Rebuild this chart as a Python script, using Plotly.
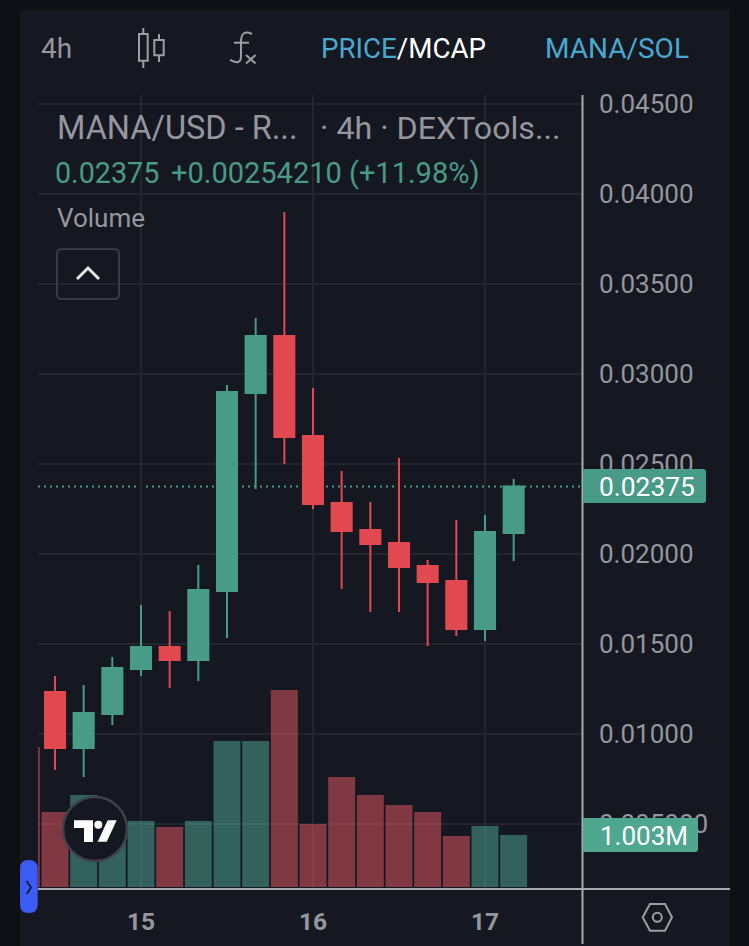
import plotly.graph_objects as go

W, H = 749, 946

# ---------- data ----------
times = ["2023-03-14 12:00", "2023-03-14 16:00", "2023-03-14 20:00", "2023-03-15 00:00",
         "2023-03-15 04:00", "2023-03-15 08:00", "2023-03-15 12:00", "2023-03-15 16:00",
         "2023-03-15 20:00", "2023-03-16 00:00", "2023-03-16 04:00", "2023-03-16 08:00",
         "2023-03-16 12:00", "2023-03-16 16:00", "2023-03-16 20:00", "2023-03-17 00:00",
         "2023-03-17 04:00"]
opens = [0.01233, 0.00922, 0.01111, 0.01361, 0.01483, 0.01411, 0.01794, 0.02894, 0.03211,
         0.02656, 0.02283, 0.02133, 0.02061, 0.01933, 0.01850, 0.01583, 0.02117]
closes = [0.00922, 0.01117, 0.01367, 0.01483, 0.01411, 0.01800, 0.02900, 0.03211, 0.02650,
          0.02278, 0.02128, 0.02056, 0.01928, 0.01844, 0.01583, 0.02122, 0.02375]
highs = [0.01322, 0.01272, 0.01428, 0.01717, 0.01683, 0.01939, 0.02939, 0.03311, 0.03900,
         0.02922, 0.02461, 0.02289, 0.02533, 0.01967, 0.02189, 0.02217, 0.02417]
lows = [0.00800, 0.00761, 0.01050, 0.01322, 0.01256, 0.01294, 0.01533, 0.02361, 0.02500,
        0.02250, 0.01806, 0.01678, 0.01678, 0.01489, 0.01544, 0.01517, 0.01961]

volume_times = ["2023-03-14 08:00"] + times
volumes_m = [2.70, 1.447, 1.774, 1.29, 1.273, 1.157, 1.273, 2.816, 2.816, 3.80,
             1.215, 2.12, 1.774, 1.58, 1.447, 0.984, 1.176, 1.003]
volume_up = [False, False, True, True, True, False, True, True, True, False,
             False, False, False, False, False, False, True, True]

price_ticks = [0.005, 0.01, 0.015, 0.02, 0.025, 0.03, 0.035, 0.04, 0.045]
price_tick_labels = ["0.005000", "0.01000", "0.01500", "0.02000", "0.02500",
                     "0.03000", "0.03500", "0.04000", "0.04500"]
day_ticks = ["2023-03-15 00:00", "2023-03-16 00:00", "2023-03-17 00:00"]
day_labels = ["15", "16", "17"]
last_price = 0.02375

# ---------- style ----------
BG, PANEL = "#0d1116", "#161821"
GREEN, RED = "#489b87", "#e2484f"
VOL_GREEN, VOL_RED = "rgba(80,172,154,0.5)", "rgba(233,90,100,0.5)"
GRID, AXIS, TEXT = "#24262f", "#a9aab1", "#95969e"
BLUE = "#4aa8d0"
FONT = "Roboto"


def px(x):
    return x / W


def py(y):
    return 1 - y / H


def path(*segs):
    """segs: strings like 'M', 'L', 'Q', 'Z' and (x, y) pixel tuples."""
    out = []
    for s in segs:
        out.append(s if isinstance(s, str) else f"{px(s[0]):.5f},{py(s[1]):.5f}")
    return " ".join(out)


def rrect(x0, y0, x1, y1, r, rl=None):
    rl = r if rl is None else rl
    return path("M", (x0 + rl, y0), "L", (x1 - r, y0), "Q", (x1, y0), (x1, y0 + r),
                "L", (x1, y1 - r), "Q", (x1, y1), (x1 - r, y1), "L", (x0 + rl, y1),
                "Q", (x0, y1), (x0, y1 - rl), "L", (x0, y0 + rl), "Q", (x0, y0), (x0 + rl, y0), "Z")


shapes = []


def shape_path(d, fill="rgba(0,0,0,0)", line=None, lw=0, layer="above"):
    shapes.append(dict(type="path", path=d, xref="paper", yref="paper", fillcolor=fill,
                       line=dict(color=line or "rgba(0,0,0,0)", width=lw), layer=layer))


def circle(cx, cy, r, fill, line=None, lw=0):
    shapes.append(dict(type="circle", xref="paper", yref="paper", x0=px(cx - r), x1=px(cx + r),
                       y0=py(cy + r), y1=py(cy - r), fillcolor=fill,
                       line=dict(color=line or "rgba(0,0,0,0)", width=lw), layer="above"))


# panel
shape_path(path("M", (20, 10), "L", (730, 10), "L", (730, 946), "L", (20, 946), "Z"), fill=PANEL, layer="below")
# last price dotted line
shapes.append(dict(type="line", xref="paper", yref="y2", x0=px(38), x1=px(582), y0=last_price, y1=last_price,
                   line=dict(color=GREEN, width=1.8, dash="2px,4px"), layer="below"))
# axis frame
shape_path(path("M", (582.5, 95), "L", (582.5, 944)), line=AXIS, lw=2)
shape_path(path("M", (38, 889), "L", (730, 889)), line=AXIS, lw=2)
# price tags
shape_path(rrect(583, 469, 706, 503, 3, rl=0.1), fill=GREEN)
shape_path(rrect(583, 818, 698, 852, 3, rl=0.1), fill="#4fa790")
# collapse button
shape_path(rrect(57, 249, 119, 299, 5), line="#383a45", lw=2)
shape_path(path("M", (77, 279), "L", (88, 268), "L", (99, 279)), line="#e6e6ea", lw=3)
# TradingView badge
circle(95, 829, 32, PANEL, "#3f414c", 2.5)
shape_path(path("M", (74, 820.3), "L", (93, 820.3), "L", (93, 842), "L", (84, 842), "L", (84, 828), "L", (74, 828), "Z"),
           fill="#ffffff")
circle(98.3, 824.7, 4, "#ffffff")
shape_path(path("M", (107.7, 820.3), "L", (116.7, 820.3), "L", (106.7, 841.7), "L", (97.7, 841.7), "Z"), fill="#ffffff")
# side tab
shape_path(rrect(20, 860, 37.7, 913, 8.5), fill="#3a5cf5")
shape_path(path("M", (26.7, 881), "L", (31, 887.5), "L", (26.7, 894)), line="#12183a", lw=1.8)
# candle icon
ICON = "#9c9da5"
shape_path(path("M", (139, 34), "L", (147.7, 34), "L", (147.7, 60.7), "L", (139, 60.7), "Z"), line=ICON, lw=2)
shape_path(path("M", (143.3, 28), "L", (143.3, 34), "M", (143.3, 60.7), "L", (143.3, 68)), line=ICON, lw=2)
shape_path(path("M", (154.3, 40), "L", (163.7, 40), "L", (163.7, 55.3), "L", (154.3, 55.3), "Z"), line=ICON, lw=2)
shape_path(path("M", (159, 34), "L", (159, 40), "M", (159, 55.3), "L", (159, 62)), line=ICON, lw=2)
# f(x) icon
shape_path(path("M", (252, 34), "Q", (241, 29), (241, 42), "L", (241, 56), "Q", (241, 66), (230, 60)), line=ICON, lw=2)
shape_path(path("M", (234, 42.7), "L", (249, 42.7)), line=ICON, lw=2)
shape_path(path("M", (246, 55), "L", (255.5, 63.5), "M", (255.5, 55), "L", (246, 63.5)), line=ICON, lw=2)
# settings hexagon
shape_path(path("M", (642.7, 917.3), "L", (650, 904), "L", (665, 904), "L", (672, 917.3), "L", (665, 930.7), "L", (650, 930.7), "Z"),
           line=ICON, lw=2)
circle(657.3, 917.3, 4.5, "rgba(0,0,0,0)", ICON, 2)

annotations = []


def label(x, y, text, size, color, anchor="left", weight=None):
    annotations.append(dict(x=px(x), y=py(y), xref="paper", yref="paper", xanchor=anchor, yanchor="middle",
                            text=text, showarrow=False, borderpad=0, align="left",
                            font=dict(family=FONT, size=size, color=color, weight=weight)))


label(40, 48, "4h", 28, TEXT)
label(320, 48, f'<span style="color:{BLUE}">PRICE</span>/MCAP', 27.7, "#ffffff")
label(544, 48, "MANA/SOL", 28, BLUE)
label(56, 128, "MANA/USD - R...", 32.5, TEXT)
label(319, 128, "· 4h · DEXTools...", 32.2, TEXT)
label(54, 173, "0.02375", 28.7, GREEN)
label(170, 173, "+0.00254210 (+11.98%)", 29, GREEN)
label(56, 218, "Volume", 26, TEXT)
label(598, 487, "0.02375", 26.4, "#ffffff")
label(599, 836, "1.003M", 26, "#ffffff")

# ---------- figure ----------
fig = go.Figure()
fig.add_trace(go.Bar(x=volume_times, y=volumes_m, yaxis="y", xaxis="x", width=0.94 * 4 * 3600 * 1000,
                     marker=dict(color=[VOL_GREEN if u else VOL_RED for u in volume_up], line_width=0),
                     showlegend=False, hoverinfo="skip"))
fig.add_trace(go.Candlestick(x=times, open=opens, high=highs, low=lows, close=closes, yaxis="y2", xaxis="x",
                             whiskerwidth=0, showlegend=False,
                             increasing=dict(line=dict(color=GREEN, width=2), fillcolor=GREEN),
                             decreasing=dict(line=dict(color=RED, width=2), fillcolor=RED)))

fig.update_layout(
    width=W, height=H, margin=dict(l=0, r=0, t=0, b=0), autosize=False,
    paper_bgcolor=BG, plot_bgcolor=PANEL, showlegend=False, hovermode=False,
    boxgap=0.3, boxgroupgap=0,
    font=dict(family=FONT, color=TEXT),
    xaxis=dict(type="date", domain=[px(38), px(582)], range=["2023-03-14 09:37:40", "2023-03-17 13:32:10"],
               rangeslider=dict(visible=False), tickmode="array", tickvals=day_ticks, ticktext=day_labels,
               showgrid=True, gridcolor=GRID, gridwidth=1.5, zeroline=False, showline=False, ticks="",
               automargin=False, ticklabelstandoff=16,
               tickfont=dict(family=FONT, size=24.5, color=TEXT, weight="bold")),
    yaxis=dict(domain=[py(888), py(95)], range=[-0.0193, 15.27], visible=False, showgrid=False, zeroline=False,
               automargin=False),
    yaxis2=dict(domain=[py(888), py(95)], range=[0.001444, 0.0455], overlaying="y", side="right", anchor="x",
                tickmode="array", tickvals=price_ticks, ticktext=price_tick_labels, showgrid=True, gridcolor=GRID,
                gridwidth=1.5, zeroline=False, showline=False, ticks="", ticklabelstandoff=16, automargin=False,
                tickfont=dict(family=FONT, size=26, color=TEXT)),
    shapes=shapes, annotations=annotations,
)

fig.write_html("out.html", config=dict(displayModeBar=False),
               post_script=f"document.body.style.margin='0';document.body.style.background='{BG}';")
